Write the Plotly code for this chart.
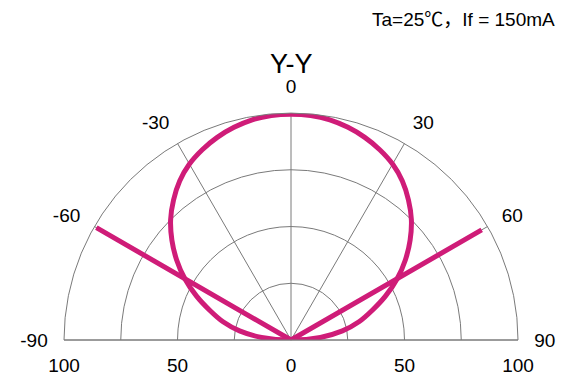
import plotly.graph_objects as go

# radiation pattern, Y-Y plane (deg, relative intensity %)
angles = [-90, -85, -80, -75, -70, -65, -60, -55, -50, -45, -40, -35, -30, -25, -20, -15, -10, -5,
          0, 5, 10, 15, 20, 25, 30, 35, 40, 45, 50, 55, 60, 65, 70, 75, 80, 85, 90]
half = [0, 13, 23, 31, 38, 46, 54, 61.5, 68.5, 75, 80.5, 85.5, 89.5, 92.5, 95, 97, 98.5, 99.3]
intensity = half + [99.5] + half[::-1]

# the two straight rays at +-60 deg
ray_theta = [-60, 0, 60]
ray_r = [99, 0, 97]

ang_ticks = [-90, -60, -30, 0, 30, 60, 90]
ang_text = ["-90", "-60", "-30", "0", "30", "60", "90"]
rad_ticks = [25, 50, 75, 100]
# radial scale printed along the base line, both directions
base_ticks = [-100, -50, 0, 50, 100]
base_text = ["100", "50", "0", "50", "100"]

pink = "#CF1C78"
grid = "#7a7a7a"
font = "Liberation Sans, Arial, sans-serif"

dom_x = [64 / 571, 518 / 571]
dom_y = [39 / 379, 266 / 379]

fig = go.Figure()
fig.add_trace(go.Scatterpolar(r=ray_r, theta=ray_theta, mode="lines",
                              line=dict(color=pink, width=5)))
fig.add_trace(go.Scatterpolar(r=intensity, theta=angles, mode="lines",
                              line=dict(color=pink, width=5, shape="spline")))
# invisible trace so the base-line scale axis gets drawn
fig.add_trace(go.Scatter(x=[0], y=[0], mode="markers", marker=dict(opacity=0),
                         hoverinfo="skip", xaxis="x", yaxis="y"))

fig.update_layout(
    width=571, height=379,
    margin=dict(l=0, r=0, t=0, b=0, autoexpand=False),
    paper_bgcolor="white",
    plot_bgcolor="rgba(0,0,0,0)",
    showlegend=False,
    polar=dict(
        domain=dict(x=dom_x, y=dom_y),
        sector=[0, 180],
        bgcolor="rgba(0,0,0,0)",
        angularaxis=dict(
            rotation=90, direction="clockwise",
            tickmode="array", tickvals=ang_ticks, ticktext=ang_text,
            ticks="outside", ticklen=12, tickcolor="rgba(0,0,0,0)",
            gridcolor=grid, gridwidth=1,
            showline=True, linecolor=grid, linewidth=1,
            tickfont=dict(family=font, size=19, color="black"),
        ),
        radialaxis=dict(
            range=[0, 100], tickmode="array", tickvals=rad_ticks,
            showticklabels=False, ticks="", showline=False,
            gridcolor=grid, gridwidth=1,
        ),
    ),
    xaxis=dict(
        domain=dom_x, range=[-100, 100], fixedrange=True, automargin=False,
        tickmode="array", tickvals=base_ticks, ticktext=base_text,
        showgrid=False, zeroline=False, showline=False,
        ticks="outside", ticklen=8, tickcolor="rgba(0,0,0,0)",
        tickfont=dict(family=font, size=19, color="black"),
    ),
    yaxis=dict(domain=dom_y, range=[0, 100], visible=False, fixedrange=True, automargin=False),
    annotations=[
        dict(text="Y-Y", x=291 / 571, y=1 - 64 / 379, xref="paper", yref="paper",
             xanchor="center", yanchor="middle", showarrow=False,
             font=dict(family=font, size=27, color="black")),
        dict(text="Ta=25℃，If = 150mA", x=557 / 571, y=1 - 20 / 379, xref="paper", yref="paper",
             xanchor="right", yanchor="middle", showarrow=False,
             font=dict(family="Liberation Sans, Noto Sans CJK SC, sans-serif", size=19, color="black")),
    ],
)

# drop the default body margin so the figure sits at the window's corner
fig.write_html("out.html", config={"displayModeBar": False},
               post_script="document.body.style.margin = '0';")
